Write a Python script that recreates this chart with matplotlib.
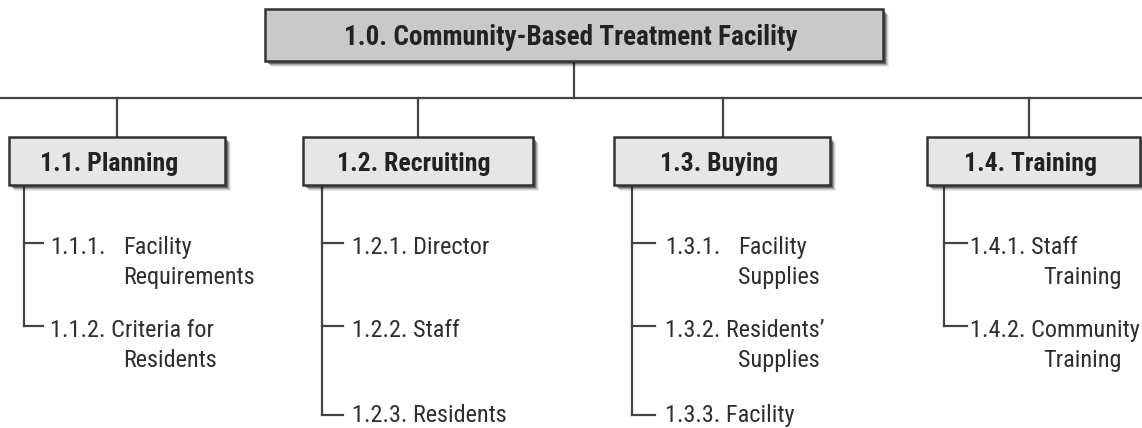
import matplotlib.pyplot as plt
from matplotlib.patches import Rectangle
from matplotlib import font_manager

# chart content
root_label = '1.0. Community-Based Treatment Facility'
branch_labels = ['1.1. Planning', '1.2. Recruiting', '1.3. Buying', '1.4. Training']
# '\t' jumps to the indent column of that branch
leaf_lines = [
    [['1.1.1.\tFacility', '\tRequirements'], ['1.1.2. Criteria for', '\tResidents']],
    [['1.2.1. Director'], ['1.2.2. Staff'], ['1.2.3. Residents']],
    [['1.3.1.\tFacility', '\tSupplies'], ['1.3.2. Residents\u2019', '\tSupplies'], ['1.3.3. Facility']],
    [['1.4.1. Staff', '\tTraining'], ['1.4.2. Community', '\tTraining']],
]

# layout (pixels, y down)
root_box = (265, 9, 883, 61)
bus_y = 98
branch_left = [9, 303, 614, 927]
branch_right = [225, 533, 830, 1140]
branch_top, branch_bottom = 137, 185
drop_x = [117, 418, 723, 1029]
label_x = [109, 414, 719, 1030]
stem_x = [24, 322, 632, 944]
tick_end = [43, 343, 655, 967]
text_x = [50, 352, 665, 970]
indent_x = [123, 425, 738, 1043]
tick_y = [243, 326, 415]
base_y = [254, 337, 422]
line_gap = 30

names = {f.name for f in font_manager.fontManager.ttflist}
stretch = 'normal'
for fam in ['Liberation Sans Narrow', 'Roboto Condensed', 'Archivo Narrow']:
    if fam in names:
        break
else:
    fam, stretch = 'DejaVu Sans', 'condensed'
plt.rcParams['font.family'] = [fam, 'DejaVu Sans']
plt.rcParams['font.stretch'] = stretch

line_col = '#444444'
edge_col = '#333333'

fig = plt.figure(figsize=(11.42, 4.28), dpi=100)
ax = fig.add_axes([0, 0, 1, 1])
ax.set_xlim(0, 1142)
ax.set_ylim(428, 0)
ax.axis('off')


def box(x0, y0, x1, y1, face, label, cx, size):
    # soft drop shadow
    for k, a in [(6, 0.08), (5, 0.12), (4, 0.2), (3, 0.35)]:
        ax.add_patch(Rectangle((x0 + k, y0 + k), x1 - x0, y1 - y0,
                               facecolor='black', edgecolor='none', alpha=a, zorder=2))
    ax.add_patch(Rectangle((x0, y0), x1 - x0, y1 - y0, facecolor=face,
                           edgecolor=edge_col, linewidth=1.8, zorder=3))
    ax.text(cx, (y0 + y1) / 2 + 10, label, ha='center', va='baseline', fontsize=size,
            fontweight=800, color='#222222', zorder=4)


# root
x0, y0, x1, y1 = root_box
cx = (x0 + x1) / 2
ax.plot([cx, cx], [y1, bus_y], color=line_col, lw=1.6, zorder=1)
ax.plot([0, 1142], [bus_y, bus_y], color=line_col, lw=1.6, zorder=1)
box(x0, y0, x1, y1, '#c9c9c9', root_label, (342 + 800) / 2, 19.5)

for i, lab in enumerate(branch_labels):
    ax.plot([drop_x[i], drop_x[i]], [bus_y, branch_top], color=line_col, lw=1.6, zorder=1)
    box(branch_left[i], branch_top, branch_right[i], branch_bottom, '#e6e6e6',
        lab, label_x[i], 18.5)
    leaves = leaf_lines[i]
    last_y = tick_y[len(leaves) - 1]
    ax.plot([stem_x[i], stem_x[i]], [branch_bottom, last_y], color=line_col, lw=1.6, zorder=1)
    for j, lines in enumerate(leaves):
        y = tick_y[j]
        ax.plot([stem_x[i], tick_end[i]], [y, y], color=line_col, lw=1.6, zorder=1)
        for k, ln in enumerate(lines):
            ty = base_y[j] + k * line_gap
            head, _, tail = ln.partition('\t')
            if head:
                ax.text(text_x[i], ty, head, ha='left', va='baseline', fontsize=17.5,
                        color='#2e2e2e')
            if tail:
                ax.text(indent_x[i], ty, tail, ha='left', va='baseline', fontsize=17.5,
                        color='#2e2e2e')

fig.savefig('out.png', dpi=100)
